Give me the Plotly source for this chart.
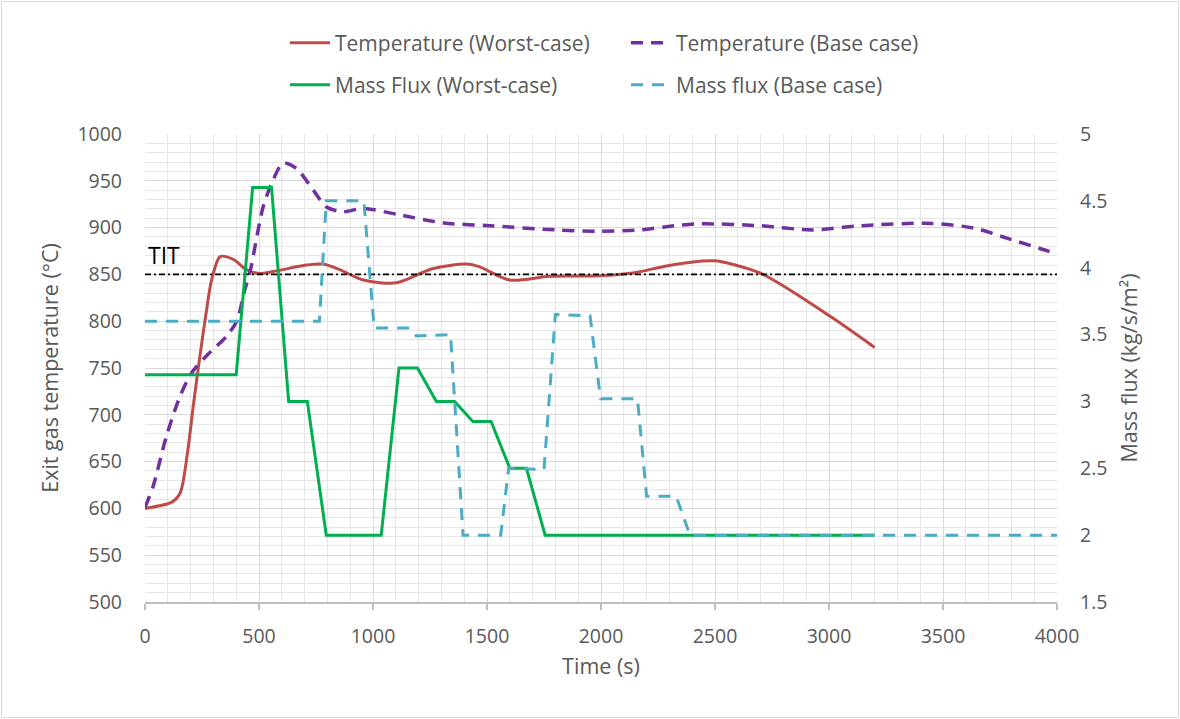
import plotly.graph_objects as go

# ---------------- data ----------------
# Temperature (Worst-case), °C
t_temp_worst = [0, 120, 155, 185, 212, 241, 270, 292, 330, 387, 446, 500, 562, 708, 781, 854,
                957, 1103, 1260, 1410, 1468, 1600, 1775, 1994, 2140, 2287, 2434, 2500, 2697,
                3000, 3200]
temp_worst = [600, 607, 617, 657, 710, 763, 812, 844, 869, 866, 855, 851, 853, 860, 861, 855,
              844, 841, 856, 861, 858, 844, 848, 848.5, 851.5, 859, 864, 864.5, 851.5,
              806, 772]

# Temperature (Base case), °C
t_temp_base = [0, 36, 95, 154, 205, 270, 358, 402, 438, 460, 518, 562, 606, 665, 738, 796,
               869, 957, 1118, 1310, 1513, 1803, 1996, 2171, 2287, 2434, 2697, 2928, 3135,
               3453, 3645, 3776, 3965, 4000]
temp_base = [601, 624, 678, 720, 745, 763, 784, 800, 834, 852, 922, 951, 969, 963, 940, 922,
             917, 920.5, 913.5, 905, 902, 897.5, 896, 897.5, 901, 904, 902, 897.5, 902,
             904.5, 899, 889, 874.5, 871]

# Mass Flux (Worst-case), kg/s/m2
t_flux_worst = [0, 400, 472, 555, 630, 712, 795, 1036, 1114, 1195, 1278, 1358, 1438, 1518,
                1600, 1673, 1755, 3200]
flux_worst = [3.2, 3.2, 4.6, 4.6, 3.0, 3.0, 2.0, 2.0, 3.25, 3.25, 3.0, 3.0, 2.85, 2.85,
              2.5, 2.5, 2.0, 2.0]

# Mass flux (Base case), kg/s/m2
t_flux_base = [0, 765, 795, 960, 1005, 1160, 1190, 1340, 1395, 1560, 1595, 1750, 1800, 1952,
               1998, 2160, 2200, 2330, 2390, 4000]
flux_base = [3.6, 3.6, 4.5, 4.5, 3.55, 3.55, 3.49, 3.5, 2.0, 2.0, 2.5, 2.49, 3.65, 3.64,
             3.02, 3.02, 2.29, 2.29, 2.0, 2.0]

# TIT reference line
t_tit = [0, 4000]
tit = [850, 850]

x_ticks = [0, 500, 1000, 1500, 2000, 2500, 3000, 3500, 4000]
y_ticks = [500, 550, 600, 650, 700, 750, 800, 850, 900, 950, 1000]
y2_ticks = [1.5, 2, 2.5, 3, 3.5, 4, 4.5, 5]

# ---------------- style ----------------
FONT = "Open Sans"
TXT = "#595959"
RED = "#BE4B48"
PURPLE = "#7030A0"
GREEN = "#00B050"
CYAN = "#4BACC6"

W, H = 1180, 719
L, R, T, B = 145, 123, 134, 117
PW, PH = W - L - R, H - T - B

fig = go.Figure()

fig.add_trace(go.Scatter(
    x=t_temp_worst, y=temp_worst, name="Temperature (Worst-case)", mode="lines",
    line=dict(color=RED, width=3, shape="spline", smoothing=0.8), legend="legend"))
fig.add_trace(go.Scatter(
    x=t_temp_base, y=temp_base, name="Temperature (Base case)", mode="lines",
    line=dict(color=PURPLE, width=3.5, dash="12px,8px", shape="spline", smoothing=0.8),
    legend="legend"))
fig.add_trace(go.Scatter(
    x=t_tit, y=tit, mode="lines", showlegend=False, hoverinfo="skip",
    line=dict(color="black", width=1.8, dash="6px,3px,2px,3px")))
fig.add_trace(go.Scatter(
    x=t_flux_worst, y=flux_worst, name="Mass Flux (Worst-case)", mode="lines",
    line=dict(color=GREEN, width=3), yaxis="y2", legend="legend2"))
fig.add_trace(go.Scatter(
    x=t_flux_base, y=flux_base, name="Mass flux (Base case)", mode="lines",
    line=dict(color=CYAN, width=3, dash="12px,9px"), yaxis="y2", legend="legend2"))

fig.add_annotation(x=0, y=850, xref="x", yref="y", text="TIT", showarrow=False,
                   xanchor="left", yanchor="bottom", xshift=1, yshift=1,
                   font=dict(family=FONT, size=23, color="black"))

legend_common = dict(orientation="h", xanchor="left", yanchor="middle",
                     entrywidth=286, entrywidthmode="pixels",
                     font=dict(family=FONT, size=21, color=TXT),
                     bgcolor="rgba(0,0,0,0)", itemwidth=40)

title_font = dict(family=FONT, size=21.5, color=TXT)
tick_font = dict(family=FONT, size=19.5, color=TXT)

fig.update_layout(
    width=W, height=H,
    margin=dict(l=L, r=R, t=T, b=B, autoexpand=False),
    paper_bgcolor="white", plot_bgcolor="white",
    font=dict(family=FONT, size=18, color=TXT),
    legend=dict(**legend_common, x=(285 - L) / PW, y=(H - B - 43) / PH),
    legend2=dict(**legend_common, x=(285 - L) / PW, y=(H - B - 85) / PH),
    xaxis=dict(
        range=[0, 4000], tickvals=x_ticks, showgrid=True, gridcolor="#d9d9d9", gridwidth=1,
        minor=dict(dtick=100, showgrid=True, gridcolor="#e6e6e6", gridwidth=1, ticks=""),
        showline=True, linecolor="#bfbfbf", linewidth=1.5,
        ticks="outside", ticklen=6, tickcolor="#bfbfbf", tickwidth=1.5,
        ticklabelstandoff=10, automargin=False,
        tickfont=tick_font,
        title=dict(text="Time (s)", font=title_font, standoff=11),
        zeroline=False,
    ),
    yaxis=dict(
        range=[500, 1000], tickvals=y_ticks, showgrid=True, gridcolor="#d9d9d9", gridwidth=1,
        minor=dict(dtick=10, showgrid=True, gridcolor="#e6e6e6", gridwidth=1, ticks=""),
        showline=False, ticks="", ticklabelstandoff=22, automargin=False,
        tickfont=tick_font,
        title=dict(text="Exit gas temperature (°C)", font=title_font, standoff=12),
        zeroline=False,
    ),
    yaxis2=dict(
        range=[1.5, 5], tickvals=y2_ticks, overlaying="y", side="right", showgrid=False,
        showline=False, ticks="", ticklabelstandoff=22, anchor="x", automargin=False,
        tickfont=tick_font,
        title=dict(text="Mass flux (kg/s/m²)", font=title_font, standoff=15),
        zeroline=False,
    ),
    shapes=[dict(type="rect", xref="paper", yref="paper",
                 x0=(1.5 - L) / PW, x1=(W - 1.5 - L) / PW,
                 y0=(H - B - (H - 1.5)) / PH, y1=(H - B - 1.5) / PH,
                 line=dict(color="#d9d9d9", width=1), fillcolor="rgba(0,0,0,0)", layer="below")],
)

fig.write_html("out.html", config={"displayModeBar": False},
               post_script="document.body.style.margin='0';document.body.style.overflow='hidden';")
